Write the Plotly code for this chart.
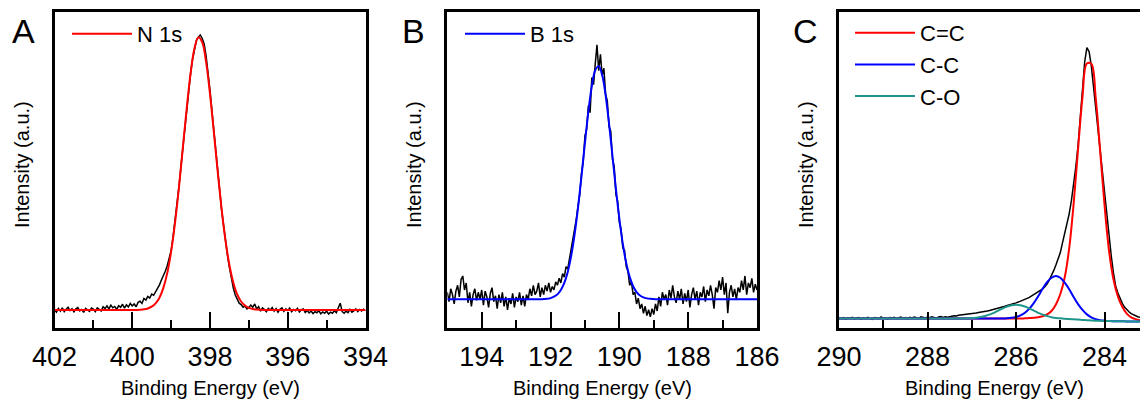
import plotly.graph_objects as go

# ---------------- panel A : N 1s ----------------
n1s_start, n1s_step = 402.0, 0.05
n1s_counts = [
    0.000, -0.008, 0.006, -0.004, 0.008, -0.006, 0.003, 0.010, -0.002, 0.005,
    -0.007, 0.004, 0.009, -0.003, 0.002, -0.009, 0.006, 0.001, -0.005, 0.007,
    0.003, -0.006, 0.008, 0.002, -0.004, 0.012, 0.005, 0.015, 0.004, 0.018,
    0.008, 0.013, 0.002, 0.016, 0.010, 0.021, 0.007, 0.019, 0.011, 0.024,
    0.015, 0.022, 0.012, 0.028, 0.032, 0.024, 0.042, 0.036, 0.050, 0.044,
    0.058, 0.054, 0.066, 0.080, 0.092, 0.110, 0.124, 0.142, 0.162, 0.188,
    0.218, 0.268, 0.325, 0.385, 0.450, 0.522, 0.595, 0.668, 0.740, 0.806,
    0.866, 0.918, 0.960, 0.988, 1.000, 1.008, 0.995, 0.975, 0.930, 0.875,
    0.805, 0.730, 0.655, 0.580, 0.500, 0.440, 0.365, 0.310, 0.250, 0.200,
    0.155, 0.115, 0.080, 0.055, 0.040, 0.025, 0.020, 0.010, 0.014, 0.004,
    0.009, 0.018, 0.010, 0.022, 0.004, 0.012, -0.004, 0.008, 0.002, -0.006,
    0.006, 0.000, 0.009, -0.004, 0.005, -0.008, 0.003, 0.008, -0.005, 0.004,
    -0.002, 0.007, -0.006, 0.002, -0.003, 0.006, -0.007, 0.001, 0.004, -0.009,
    -0.002, -0.011, -0.004, -0.013, -0.006, -0.010, -0.002, -0.014, -0.007, -0.012,
    -0.004, -0.015, -0.008, -0.012, -0.003, -0.010, 0.008, 0.025, -0.006, -0.012,
    -0.004, -0.010, 0.002, -0.008, -0.003, 0.004, -0.006, 0.002, -0.004, 0.003,
    -0.002,
]
n1s_fit_start, n1s_fit_step = 402.0, 0.1
n1s_fit = [
    0, 0, 0, 0, 0, 0, 0, 0, 0, 0, 0, 0, 0, 0, 0, 0, 0, 0, 0, 0, 0, 0,
    0.001, 0.0025, 0.0056, 0.012, 0.024, 0.045, 0.081, 0.135, 0.214, 0.319,
    0.447, 0.592, 0.737, 0.866, 0.958, 0.999, 0.981, 0.908, 0.792, 0.651,
    0.504, 0.368, 0.253, 0.164, 0.100, 0.057, 0.031, 0.016, 0.0077, 0.0035,
    0.0015, 0.0006,
    0, 0, 0, 0, 0, 0, 0, 0, 0, 0, 0, 0, 0, 0, 0, 0, 0, 0, 0, 0, 0, 0, 0, 0, 0, 0, 0,
]

# ---------------- panel B : B 1s ----------------
b1s_start, b1s_step = 195.0, 0.05
b1s_counts = [
    0.030, -0.010, 0.045, 0.020, -0.020, 0.035, 0.060, 0.010, 0.085, 0.100,
    0.040, 0.070, -0.015, 0.030, -0.030, 0.020, 0.045, -0.005, 0.030, 0.000,
    0.040, -0.025, 0.035, 0.010, -0.035, 0.025, 0.050, -0.010, 0.015, -0.040,
    0.020, -0.015, 0.030, -0.030, 0.010, -0.045, 0.005, -0.020, 0.025, -0.035,
    0.010, -0.010, 0.030, -0.025, 0.015, -0.030, 0.020, 0.000, 0.045, 0.015,
    0.060, 0.020, 0.035, 0.070, 0.010,
    0.050, 0.020, 0.060, 0.035, 0.070, 0.030, 0.055, 0.040, 0.075, 0.060,
    0.090, 0.070, 0.110, 0.095, 0.140, 0.130, 0.170, 0.210, 0.250, 0.290,
    0.345, 0.400, 0.450, 0.540, 0.590, 0.700, 0.730, 0.830, 0.800, 0.950,
    0.920, 1.010, 1.090, 0.980, 1.050, 0.960, 0.990, 0.880, 0.850, 0.740,
    0.720, 0.600, 0.570, 0.450, 0.420, 0.330, 0.300, 0.220, 0.210, 0.140,
    0.120, 0.060, 0.075, 0.020, 0.030, -0.020, 0.005, -0.040, -0.020, -0.060,
    -0.030, -0.070, -0.045, -0.075, -0.040, -0.065,
    -0.020, -0.050, 0.010, -0.030, 0.030, 0.000, 0.020, -0.025, 0.040, 0.005,
    0.060, 0.010, -0.015, 0.035, 0.000, 0.045, -0.020, 0.025, -0.010, 0.040,
    -0.035, 0.020, 0.050, 0.000, 0.035, -0.025, 0.030, 0.010, 0.055, -0.010,
    0.040, 0.015, 0.060, 0.020, -0.040, 0.050, 0.030, 0.080, 0.040, 0.095,
    0.020, 0.070, -0.060, 0.030, 0.060, 0.010, 0.045, 0.000, 0.050, 0.030,
    0.080, 0.040, 0.100, 0.020, 0.070, 0.050, 0.090, 0.030, 0.065, 0.040,
]
b1s_fit_start, b1s_fit_step = 195.0, 0.1
b1s_fit = [
    0, 0, 0, 0, 0, 0, 0, 0, 0, 0, 0, 0, 0, 0, 0, 0, 0, 0, 0, 0, 0, 0, 0, 0, 0, 0, 0, 0,
    0.001, 0.002, 0.005, 0.011, 0.021, 0.040, 0.070, 0.117, 0.186, 0.278,
    0.394, 0.528, 0.670, 0.805, 0.914, 0.982, 0.999, 0.961, 0.875, 0.753,
    0.614, 0.473, 0.345, 0.238, 0.155, 0.096, 0.056, 0.031, 0.016, 0.008,
    0.004, 0.002, 0.001,
    0, 0, 0, 0, 0, 0, 0, 0, 0, 0, 0, 0, 0, 0, 0, 0, 0, 0, 0, 0, 0, 0, 0, 0, 0, 0, 0, 0, 0, 0,
]

# ---------------- panel C : C 1s ----------------
c1s_start, c1s_step = 290.0, 0.05
c1s_counts = [
    0.002, 0.000, 0.004, -0.002, 0.003, 0.001, 0.005, -0.001, 0.002, 0.004,
    -0.002, 0.003, 0.000, 0.005, 0.001, -0.003, 0.004, 0.002, 0.000, 0.006,
    0.001, 0.003, -0.002, 0.004, 0.002, 0.005, 0.000, 0.003, 0.006, 0.001,
    0.004, -0.001, 0.005, 0.002, 0.006, 0.003, 0.000, 0.007, 0.004, 0.002,
    0.006, 0.003, 0.007, 0.005, 0.001, 0.006, 0.008, 0.004, 0.007, 0.005,
    0.008,
    0.009, 0.011, 0.010, 0.013, 0.014, 0.013, 0.016, 0.017, 0.016, 0.019,
    0.020, 0.021, 0.023, 0.024, 0.026, 0.027, 0.029, 0.031, 0.033, 0.035,
    0.038, 0.040, 0.042, 0.045, 0.047, 0.050, 0.052, 0.055, 0.057, 0.060,
    0.063, 0.066, 0.070, 0.073, 0.077, 0.081, 0.086, 0.091, 0.096, 0.101,
    0.107, 0.113, 0.122, 0.132, 0.147, 0.163, 0.183, 0.205, 0.228, 0.252,
    0.290, 0.325, 0.360, 0.400, 0.450, 0.510, 0.580, 0.660, 0.760, 0.880,
    0.980, 1.035, 1.020, 0.965, 0.885, 0.800, 0.725, 0.640, 0.560, 0.475,
    0.385, 0.305, 0.240, 0.175, 0.125, 0.098, 0.076, 0.058, 0.044, 0.034,
    0.026, 0.019, 0.014, 0.010, 0.007, 0.005,
]
c1s_fit_start, c1s_fit_step = 290.0, 0.1
cc_sp2 = [0] * 42 + [
    0.001, 0.002, 0.003, 0.005, 0.009, 0.016, 0.029, 0.054, 0.094, 0.158,
    0.268, 0.437, 0.646, 0.845, 0.974, 0.973, 0.842, 0.640, 0.431, 0.260,
    0.150, 0.085, 0.045, 0.019, 0.005, -0.002, -0.006,
]
cc_sp3 = [0] * 38 + [
    0.001, 0.003, 0.006, 0.012, 0.022, 0.038, 0.059, 0.085, 0.114, 0.139,
    0.156, 0.163, 0.156, 0.137, 0.112, 0.082, 0.055, 0.033, 0.016, 0.005,
    -0.002, -0.006, -0.008, -0.0095, -0.010, -0.010, -0.0105, -0.011, -0.011, -0.011,
    -0.011,
]
co = [0] * 29 + [
    0.001, 0.002, 0.003, 0.006, 0.010, 0.015, 0.022, 0.030, 0.039, 0.046,
    0.051, 0.053, 0.051, 0.046, 0.039, 0.030, 0.022, 0.015, 0.010, 0.005,
    0.002, 0.001, -0.001, -0.002, -0.003, -0.004, -0.005, -0.006, -0.007, -0.008,
    -0.0085, -0.009, -0.0095, -0.010, -0.010, -0.0105, -0.011, -0.011, -0.011, -0.011,
]

assert len(n1s_counts) == 161 and len(n1s_fit) == 81
assert len(b1s_counts) == 181 and len(b1s_fit) == 91
assert len(c1s_counts) == 137
assert len(cc_sp2) == len(cc_sp3) == len(co) == 69


def grid(start, step, n):
    return [round(start - step * i, 3) for i in range(n)]


FONT = "Arial, Liberation Sans, sans-serif"
W, H = 1140, 402

fig = go.Figure()

# panel A
fig.add_trace(go.Scatter(x=grid(n1s_start, n1s_step, len(n1s_counts)), y=n1s_counts,
                         mode="lines", line=dict(color="black", width=1.5),
                         showlegend=False, xaxis="x", yaxis="y"))
fig.add_trace(go.Scatter(x=grid(n1s_fit_start, n1s_fit_step, len(n1s_fit)), y=n1s_fit,
                         mode="lines", line=dict(color="#FF0000", width=2, shape="spline"),
                         name="N 1s", legend="legend", xaxis="x", yaxis="y"))

# panel B
fig.add_trace(go.Scatter(x=grid(b1s_start, b1s_step, len(b1s_counts)), y=b1s_counts,
                         mode="lines", line=dict(color="black", width=1.5),
                         showlegend=False, xaxis="x2", yaxis="y2"))
fig.add_trace(go.Scatter(x=grid(b1s_fit_start, b1s_fit_step, len(b1s_fit)), y=b1s_fit,
                         mode="lines", line=dict(color="#0000FF", width=2, shape="spline"),
                         name="B 1s", legend="legend2", xaxis="x2", yaxis="y2"))

# panel C
fig.add_trace(go.Scatter(x=grid(c1s_start, c1s_step, len(c1s_counts)), y=c1s_counts,
                         mode="lines", line=dict(color="black", width=1.5),
                         showlegend=False, xaxis="x3", yaxis="y3"))
c_fit_x = grid(c1s_fit_start, c1s_fit_step, len(cc_sp2))
for name, vals, col in [("C=C", cc_sp2, "#FF0000"), ("C-C", cc_sp3, "#0000FF"),
                        ("C-O", co, "#1F968B")]:
    fig.add_trace(go.Scatter(x=c_fit_x, y=vals, mode="lines",
                             line=dict(color=col, width=2, shape="spline"),
                             name=name, legend="legend3", xaxis="x3", yaxis="y3"))

panels = [
    # x axis name, y axis name, px left, px right, x range, y range, y mirror
    ("xaxis", "yaxis", 54.5, 365.5, [402, 394], [-0.066, 1.092], True),
    ("xaxis2", "yaxis2", 447.3, 757.0, [195, 186], [-0.123, 1.231], True),
    ("xaxis3", "yaxis3", 839.0, 1140.0, [290, 283.2], [-0.036, 1.171], False),
]
y_dom = [(H - 328) / H, (H - 12) / H]

for i, (xa, ya, left, right, xr, yr, ymirror) in enumerate(panels):
    anchor_y = "y" if i == 0 else f"y{i + 1}"
    anchor_x = "x" if i == 0 else f"x{i + 1}"
    fig.update_layout({
        xa: dict(domain=[left / W, right / W], range=xr, anchor=anchor_y,
                 automargin=False,
                 showline=True, linecolor="black", linewidth=2.5, mirror=True,
                 ticks="inside", ticklen=16, tickwidth=2, tickcolor="black",
                 tick0=0, dtick=2, showgrid=False, zeroline=False,
                 tickfont=dict(family=FONT, size=27, color="black"),
                 ticklabelstandoff=3,
                 minor=dict(ticks="inside", ticklen=8, tickwidth=2,
                            tickcolor="black", dtick=1, showgrid=False)),
        ya: dict(domain=y_dom, range=yr, anchor=anchor_x, automargin=False,
                 showline=True, linecolor="black", linewidth=2.5, mirror=ymirror,
                 ticks="", showticklabels=False, showgrid=False, zeroline=False),
    })

annotations = []
for cx, cy_title, letter, lx in [(210, 22, "A", 23.5), (602.5, 414, "B", 413),
                                 (994.5, 806, "C", 805)]:
    annotations.append(dict(x=cx / W, y=(H - 388) / H, xref="paper", yref="paper",
                            text="Binding Energy (eV)", showarrow=False,
                            xanchor="center", yanchor="middle",
                            font=dict(family=FONT, size=20, color="black")))
    annotations.append(dict(x=cy_title / W, y=(H - 165) / H, xref="paper", yref="paper",
                            text="Intensity (a.u.)", showarrow=False, textangle=-90,
                            xanchor="center", yanchor="middle",
                            font=dict(family=FONT, size=20, color="black")))
    annotations.append(dict(x=lx / W, y=(H - 31) / H, xref="paper", yref="paper",
                            text=letter, showarrow=False,
                            xanchor="center", yanchor="middle",
                            font=dict(family=FONT, size=34, color="black")))

legend_common = dict(bgcolor="rgba(0,0,0,0)", borderwidth=0, itemwidth=60,
                     font=dict(family=FONT, size=22, color="black"),
                     xanchor="left", yanchor="middle", tracegroupgap=0)

fig.update_layout(
    template="none",
    width=W, height=H,
    margin=dict(l=0, r=0, t=0, b=0, pad=0, autoexpand=False),
    paper_bgcolor="white", plot_bgcolor="white",
    showlegend=True,
    legend=dict(x=67 / W, y=(H - 34) / H, **legend_common),
    legend2=dict(x=460 / W, y=(H - 34) / H, **legend_common),
    legend3=dict(x=850 / W, y=(H - 64.5) / H, **legend_common),
    annotations=annotations,
)

# the page's default 8px body margin would push the figure off the window
fig.write_html("out.html", config={"displayModeBar": False},
               post_script="document.body.style.margin='0';document.body.style.overflow='hidden';")
